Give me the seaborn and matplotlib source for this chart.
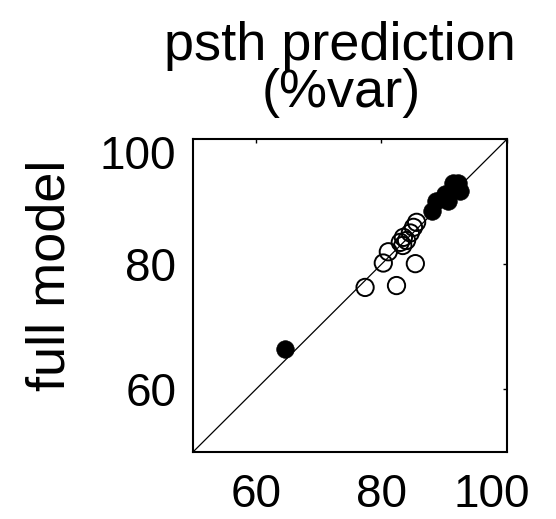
import matplotlib
matplotlib.use("Agg")
import matplotlib.pyplot as plt
import matplotlib.transforms as mtransforms
import seaborn as sns
import pandas as pd

# psth prediction (%var): x = reduced model, y = full model
open_x = [77.4, 82.4, 85.4, 80.3, 81.1, 83.0, 83.4, 83.5, 84.6, 85.1, 85.6, 84.0]
open_y = [76.3, 76.6, 80.1, 80.2, 82.0, 83.5, 83.0, 84.3, 85.0, 85.9, 86.7, 83.8]
filled_x = [64.6, 88.0, 88.7, 90.1, 90.6, 91.4, 92.2, 92.5, 91.4]
filled_y = [66.5, 88.5, 90.1, 91.2, 90.1, 92.0, 93.0, 91.7, 93.0]
ticks = [60, 80, 100]

open_df = pd.DataFrame({"x": open_x, "y": open_y})
filled_df = pd.DataFrame({"x": filled_x, "y": filled_y})

sns.set_style("white")
plt.rcParams["font.family"] = ["Liberation Sans", "DejaVu Sans"]
plt.rcParams["text.color"] = "black"
plt.rcParams["xtick.color"] = "black"
plt.rcParams["ytick.color"] = "black"
plt.rcParams["axes.labelcolor"] = "black"

fig = plt.figure(figsize=(5.56, 5.19), dpi=100)
ax = fig.add_axes([0.347, 0.129, 0.565, 0.603])

# identity line
ax.plot([50, 100], [50, 100], color="black", lw=0.9, zorder=1)

sns.scatterplot(data=open_df, x="x", y="y", ax=ax, s=155, marker="o",
                facecolors="none", edgecolor="black", linewidth=1.4, zorder=2)
sns.scatterplot(data=filled_df, x="x", y="y", ax=ax, s=160, marker="o",
                color="black", edgecolor="black", linewidth=0.5, zorder=3)

ax.set_xlim(50, 100)
ax.set_ylim(50, 100)
ax.set_xticks(ticks)
ax.set_yticks(ticks)
ax.set_xticklabels([str(t) for t in ticks])
ax.set_yticklabels([str(t) for t in ticks])
ax.tick_params(direction="in", length=3, width=1, labelsize=33,
               top=True, right=True, pad=12, colors="black")
ax.tick_params(axis="x", pad=15)
for sp in ax.spines.values():
    sp.set_linewidth(1.5)
    sp.set_color("black")

# shift the "100" labels inward like the original
lx = ax.get_xticklabels()[-1]
lx.set_transform(lx.get_transform() + mtransforms.ScaledTranslation(-15 / 100, 0, fig.dpi_scale_trans))
ly = ax.get_yticklabels()[-1]
ly.set_transform(ly.get_transform() + mtransforms.ScaledTranslation(0, -13 / 100, fig.dpi_scale_trans))

ax.set_xlabel("")
ax.set_ylabel("full model", fontsize=39, color="black")
ax.yaxis.set_label_coords(-0.375, 0.565)

fig.text(0.612, 1 - 60 / 519, "psth prediction", ha="center", va="baseline", fontsize=39)
fig.text(0.613, 1 - 107 / 519, "(%var)", ha="center", va="baseline", fontsize=39)

fig.savefig("out.png", dpi=100)
